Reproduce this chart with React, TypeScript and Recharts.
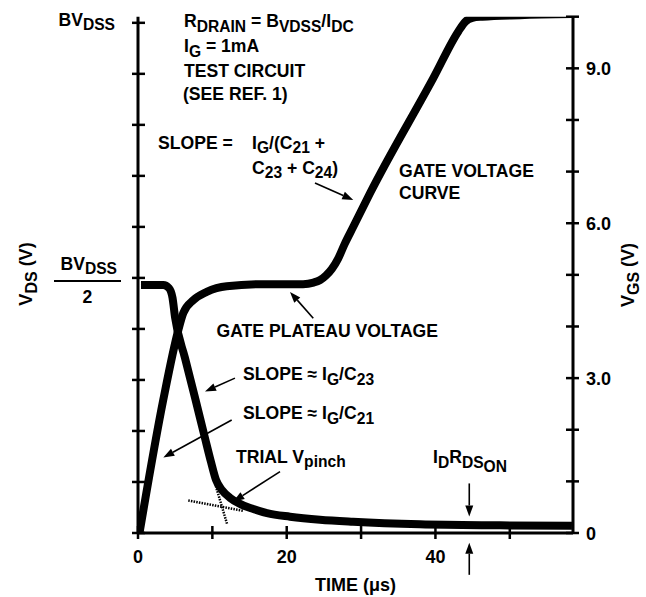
import React from 'react';
import { LineChart, Line, XAxis, YAxis, ReferenceLine } from 'recharts';

const W = 646;
const H = 597;
const FONT = '"Liberation Sans", Arial, Helvetica, sans-serif';
const TXT = 17.6;

// V_DS trace, left axis (10 = BV_DSS)
const vdsTime = [0.4, 3.4, 4.17, 4.64, 4.98, 6.32, 7.67, 9.01, 9.82, 10.49, 11.3, 12.37, 13.72, 15.33, 17.35, 20.44, 24.47, 28.91, 37.92, 48.68, 58.36];
const vdsValue = [4.86, 4.86, 4.8, 4.61, 4.23, 3.43, 2.65, 1.86, 1.39, 1.04, 0.84, 0.69, 0.57, 0.48, 0.39, 0.32, 0.26, 0.22, 0.17, 0.15, 0.14];

// V_GS trace, right axis (volts)
const vgsTime = [0.2, 3.4, 5.42, 6.09, 7.44, 9.24, 11.93, 17.31, 22.2, 23.6, 24.5, 25.3, 26.1, 26.9, 27.8, 28.95, 31.2, 39.71, 43.1, 44.0, 45.0, 46.3, 51.37, 58.36];
const vgsValue = [0, 2.58, 3.93, 4.26, 4.51, 4.67, 4.78, 4.82, 4.82, 4.85, 4.9, 4.99, 5.12, 5.31, 5.6, 5.93, 6.58, 8.81, 9.72, 9.9, 9.98, 10.0, 10.03, 10.05];

// dotted tangents used to find the trial V_pinch
const tangentFlatTime = [6.76, 14.16];
const tangentFlatValue = [0.63, 0.43];
const tangentSteepTime = [10.36, 12.01];
const tangentSteepValue = [0.96, 0.16];

// annotation arrows: [fromTime, fromV, toTime, toV] on the V_GS scale
const arrows = [
  [23.8, 6.78, 28.95, 6.45],
  [23.57, 4.16, 20.44, 4.67],
  [13.04, 3.0, 9.01, 2.74],
  [12.6, 2.19, 3.4, 1.46],
  [19.1, 1.19, 12.82, 0.61],
  [44.55, 0.96, 44.55, 0.32],
  [44.55, -0.81, 44.55, -0.19],
];

const timeTicks = [0, 10, 20, 30, 40, 50];
const timeTickLabels = ['0', '', '20', '', '40', ''];
const vdsTicks = [0, 1, 2, 3, 4, 5, 6, 7, 8, 9, 10];
const vgsTicks = [0, 1, 2, 3, 4, 5, 6, 7, 8, 9, 10];
const vgsTickLabels = ['0', '', '', '3.0', '', '', '6.0', '', '', '9.0', ''];

const vdsData = vdsTime.map((t, i) => ({ t, v: vdsValue[i] }));
const vgsData = vgsTime.map((t, i) => ({ t, v: vgsValue[i] }));
const flatData = tangentFlatTime.map((t, i) => ({ t, v: tangentFlatValue[i] }));
const steepData = tangentSteepTime.map((t, i) => ({ t, v: tangentSteepValue[i] }));

type Part = [string, number];

function Rich({ x, y, parts, anchor = 'start', size = TXT, transform }: any) {
  let level = 0;
  return (
    <text x={x} y={y} textAnchor={anchor} fontSize={size} transform={transform} style={{ whiteSpace: 'pre' }}>
      {parts.map(([s, l]: Part, i: number) => {
        const dy = (l - level) * 4.5;
        level = l;
        return (
          <tspan key={i} dy={dy} fontSize={l ? size - 2 : size}>
            {s}
          </tspan>
        );
      })}
    </text>
  );
}

const LeftTick = ({ x, y, payload }: any) => {
  const v = payload.value;
  return (
    <g>
      <line x1={x - 6} x2={x + 7} y1={y} y2={y} stroke="#000" strokeWidth={2.5} />
      {v === 10 && <Rich x={x - 23} y={y + 3} anchor="end" parts={[['BV', 0], ['DSS', 1]]} />}
      {v === 5 && (
        <g>
          <Rich x={x - 21} y={y - 8} anchor="end" parts={[['BV', 0], ['DSS', 1]]} />
          <line x1={x - 84} x2={x - 17} y1={y + 3} y2={y + 3} stroke="#000" strokeWidth={2} />
          <text x={x - 50.5} y={y + 25} textAnchor="middle" fontSize={TXT}>2</text>
        </g>
      )}
    </g>
  );
};

const RightTick = ({ x, y, index }: any) => (
  <g>
    <line x1={x - 7} x2={x + 6} y1={y} y2={y} stroke="#000" strokeWidth={2.5} />
    {vgsTickLabels[index] && (
      <text x={x + 13} y={y + 6.5} fontSize={18}>{vgsTickLabels[index]}</text>
    )}
  </g>
);

const TimeTick = ({ x, y, index }: any) => (
  <g>
    <line x1={x} x2={x} y1={y - 7} y2={y + 6} stroke="#000" strokeWidth={2.5} />
    {timeTickLabels[index] && (
      <text x={x} y={y + 30} textAnchor="middle" fontSize={18}>{timeTickLabels[index]}</text>
    )}
  </g>
);

const ArrowShape = ({ x1, y1, x2, y2 }: any) => {
  const ang = Math.atan2(y2 - y1, x2 - x1);
  const len = 11;
  const hw = 4;
  const bx = x2 - len * Math.cos(ang);
  const by = y2 - len * Math.sin(ang);
  const nx = -Math.sin(ang) * hw;
  const ny = Math.cos(ang) * hw;
  return (
    <g>
      <line x1={x1} y1={y1} x2={bx} y2={by} stroke="#000" strokeWidth={1.6} />
      <polygon points={`${x2},${y2} ${bx + nx},${by + ny} ${bx - nx},${by - ny}`} fill="#000" />
    </g>
  );
};

export default function App() {
  return (
    <div style={{ position: 'absolute', left: 0, top: 0, width: W, height: H, background: '#fff', fontFamily: FONT, fontWeight: 700 }}>
      <LineChart width={W} height={H} margin={{ top: 16.7, right: 0, bottom: 0, left: 0 }} style={{ fontFamily: FONT, fontWeight: 700 }}>
        <XAxis
          type="number"
          dataKey="t"
          domain={[0, 58.5]}
          allowDataOverflow
          ticks={timeTicks}
          interval={0}
          height={64}
          tickSize={0}
          tickMargin={0}
          axisLine={{ stroke: '#000', strokeWidth: 3 }}
          tick={(p: any) => <TimeTick {...p} />}
        />
        <YAxis
          yAxisId="vds"
          orientation="left"
          type="number"
          domain={[0, 10.12]}
          allowDataOverflow
          ticks={vdsTicks}
          interval={0}
          width={138}
          tickSize={0}
          tickMargin={0}
          axisLine={{ stroke: '#000', strokeWidth: 3 }}
          tick={(p: any) => <LeftTick {...p} />}
        />
        <YAxis
          yAxisId="vgs"
          orientation="right"
          type="number"
          domain={[0, 10]}
          allowDataOverflow
          ticks={vgsTicks}
          interval={0}
          width={73}
          tickSize={0}
          tickMargin={0}
          axisLine={{ stroke: '#000', strokeWidth: 3 }}
          tick={(p: any) => <RightTick {...p} />}
        />
        <Line yAxisId="vgs" data={flatData} dataKey="v" type="linear" stroke="#000" strokeWidth={2.5} strokeDasharray="1.5 1.2" dot={false} activeDot={false} isAnimationActive={false} />
        <Line yAxisId="vgs" data={steepData} dataKey="v" type="linear" stroke="#000" strokeWidth={2.5} strokeDasharray="1.5 1.2" dot={false} activeDot={false} isAnimationActive={false} />
        <Line yAxisId="vds" data={vdsData} dataKey="v" type="monotone" stroke="#000" strokeWidth={8} dot={false} activeDot={false} isAnimationActive={false} />
        <Line yAxisId="vgs" data={vgsData} dataKey="v" type="monotone" stroke="#000" strokeWidth={8} dot={false} activeDot={false} isAnimationActive={false} />
        {arrows.map((a, i) => (
          <ReferenceLine
            key={i}
            yAxisId="vgs"
            ifOverflow="visible"
            segment={[{ x: a[0], y: a[1] }, { x: a[2], y: a[3] }]}
            shape={(p: any) => <ArrowShape {...p} />}
          />
        ))}
      </LineChart>
      <svg width={W} height={H} style={{ position: 'absolute', left: 0, top: 0, pointerEvents: 'none' }}>
        <g fontFamily={FONT} fontWeight={700} fill="#000">
          <Rich x={184} y={27} parts={[['R', 0], ['DRAIN', 1], [' = B', 0], ['VDSS', 1], ['/I', 0], ['DC', 1]]} />
          <Rich x={184} y={52} parts={[['I', 0], ['G', 1], [' = 1mA', 0]]} />
          <Rich x={184} y={76.5} parts={[['TEST CIRCUIT', 0]]} />
          <Rich x={183} y={99.5} parts={[['(SEE REF. 1)', 0]]} />
          <Rich x={158} y={148.5} parts={[['SLOPE =', 0]]} />
          <Rich x={252} y={148.5} parts={[['I', 0], ['G', 1], ['/(C', 0], ['21', 1], [' +', 0]]} />
          <Rich x={252} y={173.5} parts={[['C', 0], ['23', 1], [' + C', 0], ['24', 1], [')', 0]]} />
          <Rich x={399} y={176.5} parts={[['GATE VOLTAGE', 0]]} />
          <Rich x={399} y={198.5} parts={[['CURVE', 0]]} />
          <Rich x={216.5} y={336.5} parts={[['GATE PLATEAU VOLTAGE', 0]]} />
          <Rich x={243} y={380} parts={[['SLOPE ≈ I', 0], ['G', 1], ['/C', 0], ['23', 1]]} />
          <Rich x={243} y={419} parts={[['SLOPE ≈ I', 0], ['G', 1], ['/C', 0], ['21', 1]]} />
          <Rich x={236} y={462.5} parts={[['TRIAL V', 0], ['pinch', 1]]} />
          <Rich x={433} y={463} parts={[['I', 0], ['D', 1], ['R', 0], ['DS', 1], ['ON', 2]]} />
          <Rich x={355.5} y={590.5} anchor="middle" size={18} parts={[['TIME (μs)', 0]]} />
          <Rich x={32} y={274} anchor="middle" size={18} transform="rotate(-90 32 274)" parts={[['V', 0], ['DS', 1], [' (V)', 0]]} />
          <Rich x={634} y={275} anchor="middle" size={18} transform="rotate(-90 634 275)" parts={[['V', 0], ['GS', 1], [' (V)', 0]]} />
        </g>
      </svg>
    </div>
  );
}
